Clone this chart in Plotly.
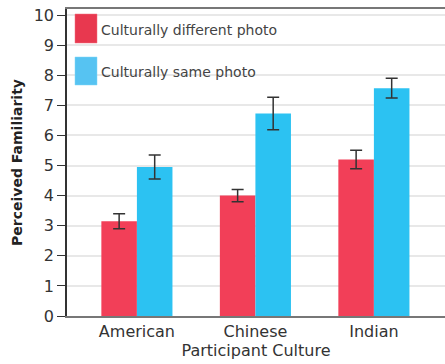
import plotly.graph_objects as go

categories = ["American", "Chinese", "Indian"]
different_vals = [3.15, 4.0, 5.2]
different_err = [0.25, 0.2, 0.31]
same_vals = [4.95, 6.73, 7.57]
same_err = [0.4, 0.54, 0.33]
series_names = ["Culturally different photo", "Culturally same photo"]
y_ticks = list(range(0, 11))

W, H = 445, 364
L, R, T, B = 67, 0, 9, 48
PW, PH = W - L - R, H - T - B

def px_x(p):
    return (p - L) / PW

def px_y(p):
    return (H - B - p) / PH

fig = go.Figure()
fig.add_bar(x=categories, y=different_vals, name=series_names[0],
            marker=dict(color="#F23F58", line=dict(width=0)),
            error_y=dict(type="data", array=different_err, color="#333333", thickness=1.5, width=6),
            showlegend=False)
fig.add_bar(x=categories, y=same_vals, name=series_names[1],
            marker=dict(color="#2CC2F2", line=dict(width=0)),
            error_y=dict(type="data", array=same_err, color="#333333", thickness=1.5, width=6),
            showlegend=False)

shapes = [
    dict(type="rect", xref="paper", yref="paper", x0=px_x(68.5), x1=px_x(287), y0=px_y(88), y1=px_y(10),
         fillcolor="white", line=dict(width=0), layer="between"),
    dict(type="rect", xref="paper", yref="paper", x0=px_x(75), x1=px_x(97), y0=px_y(43), y1=px_y(14),
         fillcolor="#E8384F", line=dict(width=0.5, color="#F07080")),
    dict(type="rect", xref="paper", yref="paper", x0=px_x(75), x1=px_x(97), y0=px_y(85), y1=px_y(57),
         fillcolor="#56C3F2", line=dict(width=0.5, color="#80D4F6")),
]
annotations = [
    dict(text=series_names[0], xref="paper", yref="paper", x=px_x(99), y=px_y(30), xanchor="left",
         yanchor="middle", showarrow=False, font=dict(size=14, color="#444444")),
    dict(text=series_names[1], xref="paper", yref="paper", x=px_x(99), y=px_y(72), xanchor="left",
         yanchor="middle", showarrow=False, font=dict(size=14, color="#444444")),
]

fig.update_layout(
    width=W, height=H,
    margin=dict(l=L, r=R, t=T, b=B),
    paper_bgcolor="white", plot_bgcolor="white",
    barmode="group", bargap=0.4, bargroupgap=0,
    font=dict(family="DejaVu Sans", color="#333333"),
    shapes=shapes, annotations=annotations,
    xaxis=dict(range=[-0.59, 2.6], showgrid=False, showline=True, linecolor="#777777", linewidth=2,
               mirror=True, ticks="", tickfont=dict(size=16, color="#333333"),
               title=dict(text="Participant Culture", font=dict(size=16, color="#333333"), standoff=2)),
    yaxis=dict(range=[0, 10.2], tickvals=y_ticks, showgrid=True, gridcolor="#E8E8E8", gridwidth=1.5,
               showline=True, linecolor="#333333", linewidth=1.5, ticks="outside", ticklen=8,
               tickcolor="#333333", tickwidth=1.2, tickfont=dict(size=16, color="#333333"),
               zeroline=False,
               title=dict(text="<b>Perceived Familiarity</b>", font=dict(size=14, color="#222222"), standoff=8)),
)

fig.write_html("out.html")
